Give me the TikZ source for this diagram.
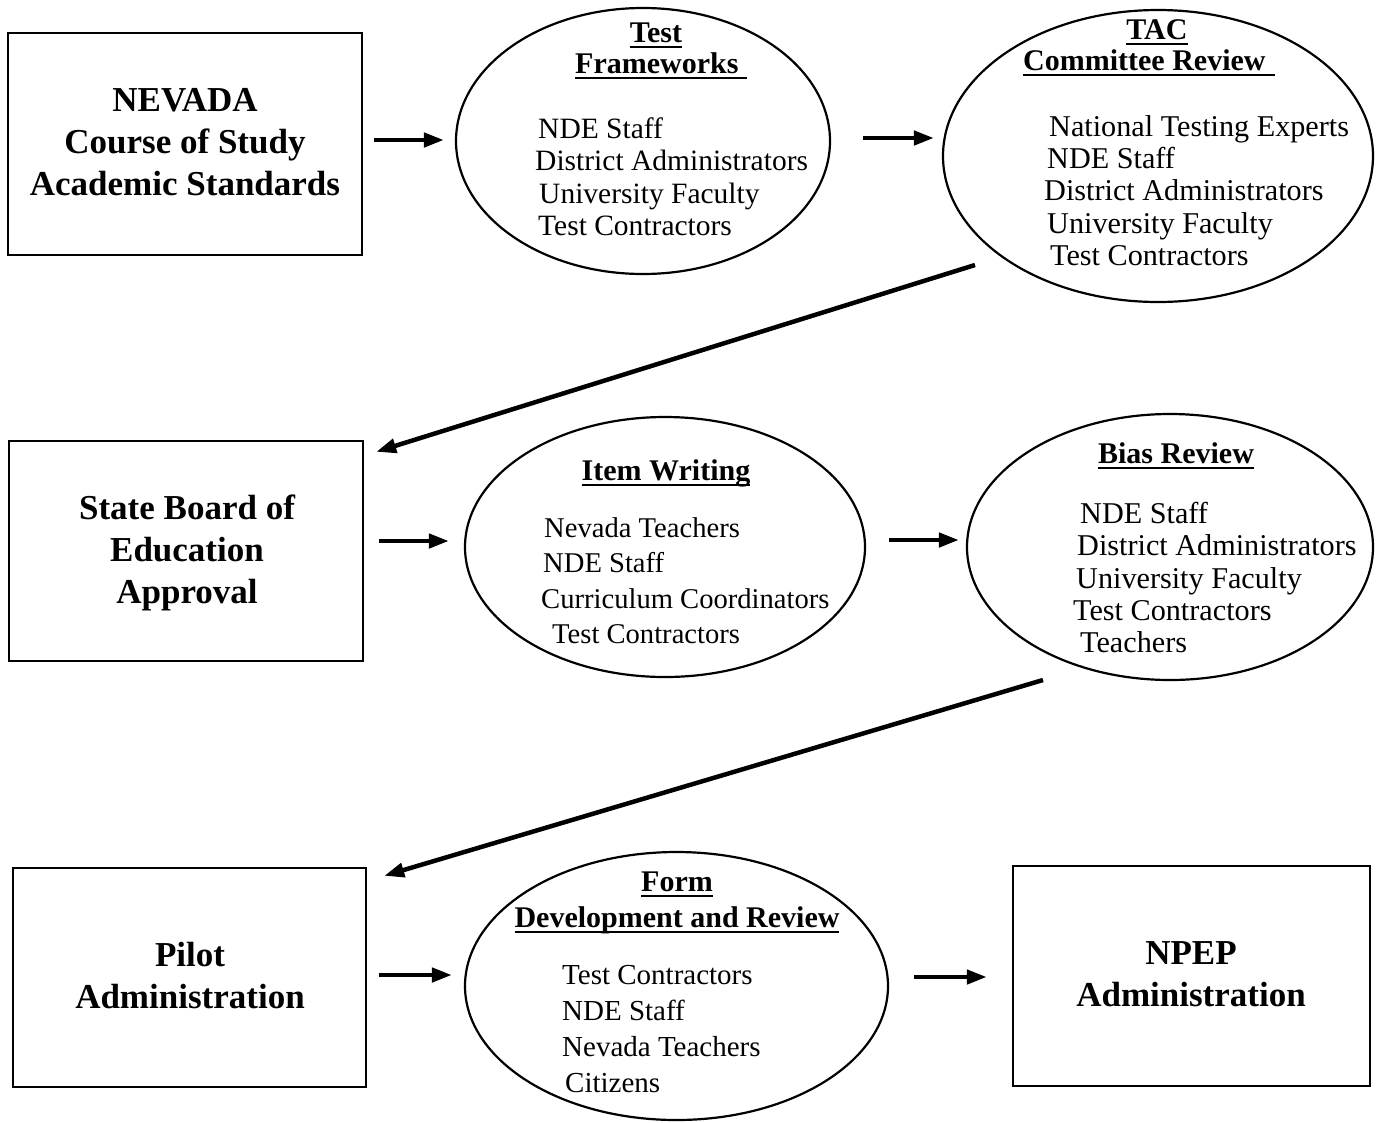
\documentclass[tikz,border=0pt]{standalone}
\usepackage{fontspec}
\setmainfont{Liberation Serif}
\usetikzlibrary{arrows.meta,shapes.geometric}
\newcommand\myul[1]{\setbox0=\hbox{#1}\rlap{\rule[-6pt]{\wd0}{2.2pt}}\box0}
\begin{document}
\begin{tikzpicture}[x=1pt,y=-1pt,
  box/.style={draw, line width=2.4pt, inner sep=0},
  ell/.style={draw, ellipse, line width=2.2pt, inner sep=0},
  hd/.style={font=\fontsize{30}{31}\selectfont\bfseries, anchor=base, inner sep=0},
  bx/.style={font=\fontsize{35}{42}\selectfont\bfseries, anchor=base, inner sep=0},
  itm/.style={font=\fontsize{29.5}{32}\selectfont, anchor=base west, inner sep=0},
  itmw/.style={font=\fontsize{30.2}{32}\selectfont, anchor=base west, inner sep=0},
  itms/.style={font=\fontsize{29}{32}\selectfont, anchor=base west, inner sep=0},
  itmn/.style={font=\fontsize{28.6}{32}\selectfont, anchor=base west, inner sep=0},
  arr/.style={-{Triangle[length=20pt,width=14pt]}, line width=4.5pt}]
\useasboundingbox[fill=white] (0,0) rectangle (1384,1122);

% boxes
\node[box, minimum width=354pt, minimum height=222pt] (b1) at (185,144) {};
\node[box, minimum width=354pt, minimum height=220pt] (b2) at (186,551) {};
\node[box, minimum width=353pt, minimum height=219pt] (b3) at (189.5,977.5) {};
\node[box, minimum width=357pt, minimum height=220pt] (b4) at (1191.5,976) {};

% ellipses
\node[ell, minimum width=374pt, minimum height=266pt] (e1) at (643,141) {};
\node[ell, minimum width=430pt, minimum height=292pt] (e2) at (1158,156) {};
\node[ell, minimum width=400pt, minimum height=260pt] (e3) at (665,547) {};
\node[ell, minimum width=406pt, minimum height=266pt] (e4) at (1170,547) {};
\node[ell, minimum width=423pt, minimum height=268pt] (e5) at (676.5,986) {};

% box texts
\node[bx] (b1t1) at (185,111) {NEVADA};
\node[bx] (b1t2) at (185,153) {Course of Study};
\node[bx] (b1t3) at (185,195) {Academic Standards};
\node[bx] (b2t1) at (187,519) {State Board of};
\node[bx] (b2t2) at (187,561) {Education};
\node[bx] (b2t3) at (187,603) {Approval};
\node[bx] (b3t1) at (190,966) {Pilot};
\node[bx] (b3t2) at (190,1008) {Administration};
\node[bx] (b4t1) at (1191,964) {NPEP};
\node[bx] (b4t2) at (1191,1006) {Administration};

% ellipse headings
\node[hd] (e1h1) at (656,42) {\myul{Test}};
\node[hd, anchor=base west] (e1h2) at (575,73) {\myul{Frameworks\hspace{9pt}}};
\node[hd] (e2h1) at (1157,39) {\myul{TAC}};
\node[hd, anchor=base west] (e2h2) at (1023,70) {\myul{Committee Review\hspace{9pt}}};
\node[hd] (e3h) at (666,480) {\myul{Item Writing}};
\node[hd] (e4h) at (1176,463) {\myul{Bias Review}};
\node[hd] (e5h1) at (677,891) {\myul{Form}};
\node[hd] (e5h2) at (677,927) {\myul{Development and Review}};

% ellipse lists
\foreach \x/\y/\t [count=\i] in {538/138/NDE Staff, 535/170/District Administrators, 539/203/University Faculty, 538/235/Test Contractors}
  \node[itm] (e1l\i) at (\x,\y) {\t};
\foreach \x/\y/\t [count=\i] in {1049/136/National Testing Experts, 1047/168/NDE Staff, 1044/200/District Administrators, 1047/233/University Faculty, 1050/265/Test Contractors}
  \node[itmw] (e2l\i) at (\x,\y) {\t};
\foreach \x/\y/\t [count=\i] in {544/537/Nevada Teachers, 543/572/NDE Staff, 541/608/Curriculum Coordinators, 552/643/Test Contractors}
  \node[itmn] (e3l\i) at (\x,\y) {\t};
\foreach \x/\y/\t [count=\i] in {1080/523/NDE Staff, 1077/555/District Administrators, 1076/588/University Faculty, 1073/620/Test Contractors, 1080/652/Teachers}
  \node[itmw] (e4l\i) at (\x,\y) {\t};
\foreach \x/\y/\t [count=\i] in {562/984/Test Contractors, 562/1020/NDE Staff, 562/1056/Nevada Teachers, 565/1092/Citizens}
  \node[itms] (e5l\i) at (\x,\y) {\t};

% connectors
\draw[arr] ([shift={(11,-4)}]b1.east) -- ([shift={(-11,-1)}]e1.west);
\draw[arr] ([shift={(32,-3)}]e1.east) -- ([shift={(-8,-18)}]e2.west);
\coordinate (d1) at (975,265);
\draw[arr] (d1) -- ([shift={(12,12)}]b2.north east);
\draw[arr] ([shift={(15,-10)}]b2.east) -- ([shift={(-15,-6)}]e3.west);
\draw[arr] ([shift={(23,-7)}]e3.east) -- ([shift={(-7,-7)}]e4.west);
\coordinate (d2) at (1043,680);
\draw[arr] (d2) -- ([shift={(17,9)}]b3.north east);
\draw[arr] ([shift={(12,-2.5)}]b3.east) -- ([shift={(-12,-11)}]e5.west);
\draw[arr] ([shift={(25,-9)}]e5.east) -- ([shift={(-25,1)}]b4.west);
\end{tikzpicture}
\end{document}
